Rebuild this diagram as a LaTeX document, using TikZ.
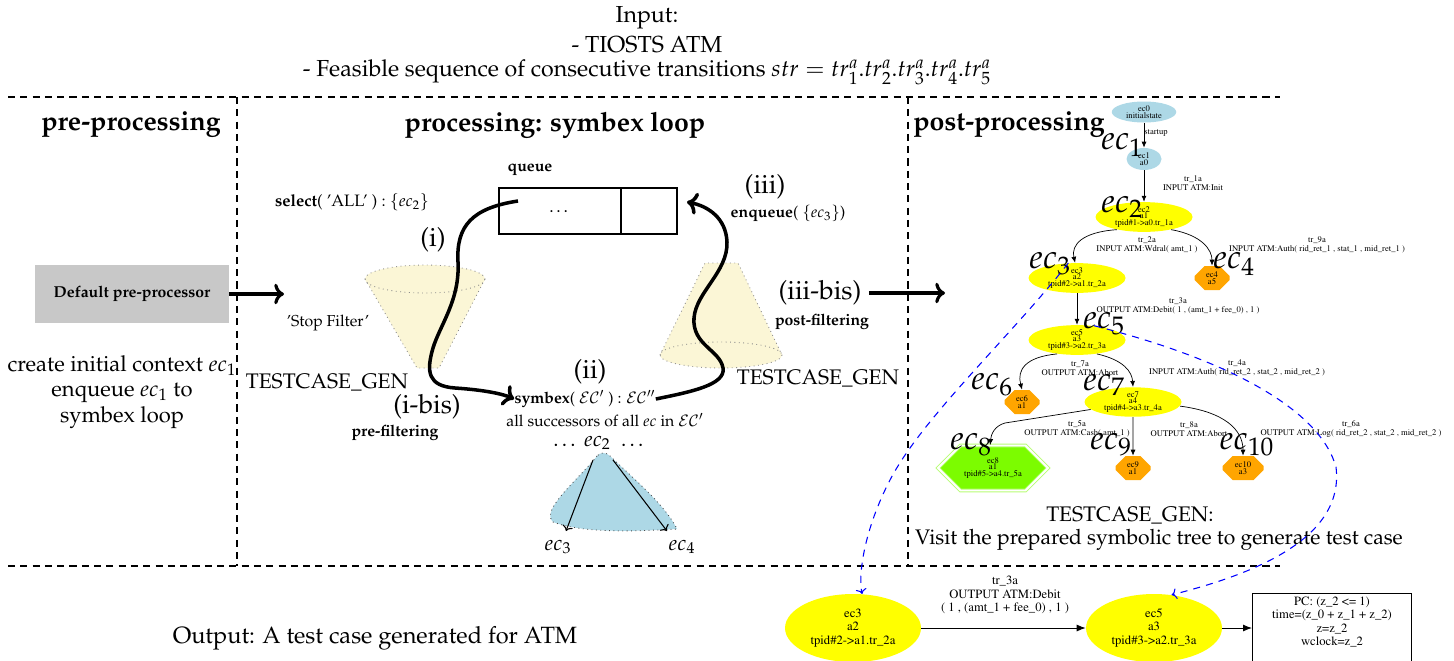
\documentclass[tikz,border=0pt]{standalone}
\usepackage[T1]{fontenc}
\usepackage{mathpazo}
\usetikzlibrary{arrows.meta,shapes.geometric,shapes.misc,positioning}

\definecolor{gvblue}{HTML}{ADD8E6}
\definecolor{gvyellow}{HTML}{FFFF00}
\definecolor{gvorange}{HTML}{FFA500}
\definecolor{gvgreen}{HTML}{7CFC00}
\definecolor{conecol}{HTML}{FBF6D6}
\definecolor{boxgray}{HTML}{C8C8C8}

\newcommand{\gvfont}{\fontfamily{ptm}\selectfont}

\tikzset{
    sep/.style      = {dash pattern=on 4pt off 3pt, line width=0.7pt},
    txt/.style      = {font=\fontsize{12}{14.2}\selectfont, align=center, inner sep=0pt},
    ttl/.style      = {font=\fontsize{13.2}{15}\selectfont, inner sep=0pt},
    head/.style     = {font=\fontsize{15.2}{17}\selectfont\bfseries, inner sep=0pt},
    sml/.style      = {font=\fontsize{9}{11}\selectfont, inner sep=0pt},
    smlb/.style     = {font=\fontsize{9}{11}\selectfont\bfseries, inner sep=0pt},
    stage/.style    = {font=\fontsize{15}{17}\selectfont, inner sep=0pt},
    eclab/.style    = {font=\fontsize{19}{19}\selectfont, inner sep=0pt},
    loopline/.style = {->, line width=2pt},
    bigarrow/.style = {->, line width=1.8pt},
    cone/.style     = {fill=conecol},
    conerim/.style  = {draw=black!45, dotted, line width=0.5pt},
    qcell/.style    = {draw, line width=1.6pt, minimum height=0.92cm, inner sep=0pt, outer sep=0pt},
    gv/.style       = {font=\gvfont\fontsize{4.9}{3.8}\selectfont, align=center, inner sep=0pt},
    gvell/.style    = {gv, ellipse, fill=gvyellow, minimum width=1.94cm, minimum height=0.58cm},
    gvoct/.style    = {gv, chamfered rectangle, chamfered rectangle sep=0.1cm, fill=gvorange,
                       minimum width=0.7cm, minimum height=0.48cm},
    gvedge/.style   = {-{Latex[length=1.2mm,width=1mm]}, line width=0.4pt},
    gvbig/.style    = {font=\gvfont\fontsize{7.2}{7.6}\selectfont, align=center, inner sep=0pt},
    trace/.style    = {->, blue, dash pattern=on 4pt off 3.5pt, line width=0.6pt}
}

\begin{document}
\begin{tikzpicture}[x=0.02cm, y=-0.02cm]
    \useasboundingbox (0,0) rectangle (1454,660);
    \clip (0,0) rectangle (1454,660);

    % ---------- input ----------
    \node[ttl] (InTitle) at (647,18) {Input:};
    \node[ttl] (InAtm)   at (647,45) {- TIOSTS ATM};
    \node[ttl] (InSeq)   at (647,72)
      {- Feasible sequence of consecutive transitions $str = tr^a_1.tr^a_2.tr^a_3.tr^a_4.tr^a_5$};

    % ---------- frame ----------
    \draw[sep] (8,97)  -- (1280,97);
    \draw[sep] (8,566) -- (1280,566);
    \draw[sep] (237,97) -- (237,566);
    \draw[sep] (908,97) -- (908,566);

    \node[head] (PreHead)  at (131,125) {pre-processing};
    \node[head] (ProcHead) at (555,125) {processing: symbex loop};
    \node[head, anchor=west] (PostHead) at (913,125) {post-processing};

    % =================================================
    % 1. pre-processing
    % =================================================
    \node[fill=boxgray, minimum width=3.88cm, minimum height=1.16cm,
          font=\fontsize{9}{11}\selectfont\bfseries] (PrePro) at (132,294) {Default pre-processor};
    \coordinate (ProcIn) at (284,294);
    \draw[bigarrow] (PrePro) -- (ProcIn);

    \node[txt, font=\fontsize{12.5}{14.6}\selectfont] (PreNote) at (122,392)
      {create initial context $ec_1$\\enqueue $ec_1$ to\\symbex loop};

    % =================================================
    % 2. symbex loop
    % =================================================
    % filters (drawn first, the loop passes over them)
    \fill[cone] (365,279) -- (417,368) -- (439,368) -- (485,279) -- cycle;
    \fill[cone] (425,279) ellipse (60 and 14);
    \draw[conerim] (425,279) ellipse (60 and 14);
    \draw[conerim] (365,279) -- (417,368) -- (439,368) -- (485,279);

    \fill[cone] (705,263) -- (738,263) -- (782,355) -- (660,355) -- cycle;
    \fill[cone] (721,355) ellipse (61 and 13);
    \draw[conerim] (721,355) ellipse (61 and 13);
    \draw[conerim] (660,355) -- (705,263) -- (738,263) -- (782,355);

    % queue
    \node[smlb] (QLab) at (530,170) {queue};
    \node[qcell, minimum width=2.44cm] (QHead) at (560,211) {\dots};
    \node[qcell, minimum width=1.12cm, right=0pt of QHead] (QTail) {};
    \node[sml, font=\fontsize{9.4}{11}\selectfont] (Select) at (352,202) {\textbf{select}( 'ALL' ) : $\{ec_2\}$};

    \node[stage] (StepI)   at (433,240) {(i)};
    \node[sml]   (StopF)   at (328,323) {'Stop Filter'};
    \node[font=\fontsize{12}{14}\selectfont, inner sep=0pt] (GenL) at (327,382) {TESTCASE\_GEN};
    \node[stage] (StepIb)  at (427,407) {(i-bis)};
    \node[smlb]  (PreFilt) at (395,433) {pre-filtering};

    \node[stage] (StepII) at (590,372) {(ii)};
    \node[sml] (Symb) at (585,399) {\textbf{symbex}( $\mathcal{EC}'$ ) : $\mathcal{EC}''$};
    \node[sml] (Succ) at (605,420) {all successors of all $ec$ in $\mathcal{EC}'$};
    \node[font=\fontsize{12}{14}\selectfont, inner sep=0pt] (Ec2) at (600,443) {\dots\ $ec_2$ \ \dots};

    \node[stage] (StepIII)  at (765,187) {(iii)};
    \node[sml]   (Enq)      at (788,213) {\textbf{enqueue}( $\{ec_3\}$)};
    \node[stage] (StepIIIb) at (820,293) {(iii-bis)};
    \node[smlb]  (PostFilt) at (822,322) {post-filtering};
    \node[font=\fontsize{12}{14}\selectfont, inner sep=0pt] (GenR) at (818,378) {TESTCASE\_GEN};

    % successors of ec2
    \path[fill=gvblue, draw=black!70, dotted, line width=0.5pt]
      (597,456) .. controls (578,480) and (540,510) .. (553,522)
      .. controls (585,534) and (640,531) .. (677,529)
      .. controls (665,505) and (635,480) .. (610,456)
      .. controls (606,452) and (600,452) .. cycle;
    \node[font=\fontsize{12}{14}\selectfont, inner sep=0pt] (Ec3) at (558,547) {$ec_3$};
    \node[font=\fontsize{12}{14}\selectfont, inner sep=0pt] (Ec4) at (682,547) {$ec_4$};
    \coordinate (SplitL) at (593,460);
    \coordinate (SplitR) at (613,460);
    \coordinate (HitL)   at (566,531);
    \coordinate (HitR)   at (667,531);
    \draw[->, line width=0.6pt] (SplitL) -- (HitL);
    \draw[->, line width=0.6pt] (SplitR) -- (HitR);

    % the loop itself
    \coordinate (QOut) at (518,201);
    \coordinate (QIn)  at (687,202);
    \draw[loopline] (QOut) .. controls (472,208) and (456,226) .. (458,262)
      .. controls (460,300) and (440,325) .. (433,348)
      .. controls (426,372) and (428,386) .. (455,388)
      .. controls (485,390) and (503,394) .. (Symb.west);
    \draw[loopline] (Symb.east) .. controls (690,392) and (726,385) .. (723,368)
      .. controls (720,350) and (692,345) .. (694,318)
      .. controls (696,292) and (728,272) .. (727,242)
      .. controls (726,218) and (708,206) .. (QIn);

    \coordinate (PostIn) at (945,293);
    \draw[bigarrow] ([xshift=4pt]StepIIIb.east) -- (PostIn);

    % =================================================
    % 3. symbolic tree
    % =================================================
    \node[gv, ellipse, fill=gvblue, minimum width=1.29cm, minimum height=0.42cm] (T0) at (1144,112) {ec0\\initialstate};
    \node[gv, ellipse, fill=gvblue, minimum width=0.7cm, minimum height=0.44cm] (T1) at (1144,159) {ec1\\a0};
    \node[gvell] (T2) at (1144,217) {ec2\\a1\\tpid\#1->a0.tr\_1a};
    \node[gvell] (T3) at (1077,278) {ec3\\a2\\tpid\#2->a1.tr\_2a};
    \node[gvoct] (T4) at (1212,278) {ec4\\a5};
    \node[gvell] (T5) at (1077,340) {ec5\\a3\\tpid\#3->a2.tr\_3a};
    \node[gvoct] (T6) at (1022,402) {ec6\\a1};
    \node[gvell] (T7) at (1133,402) {ec7\\a4\\tpid\#4->a3.tr\_4a};
    \node[gv, chamfered rectangle, chamfered rectangle xsep=0.42cm, chamfered rectangle ysep=0.24cm,
          fill=gvgreen, draw=gvgreen!55!white, double=white, double distance=1.1pt, line width=0.5pt,
          minimum width=2.2cm, minimum height=0.7cm] (T8) at (993,468) {ec8\\a1\\tpid\#5->a4.tr\_5a};
    \node[gvoct] (T9)  at (1133,468) {ec9\\a1};
    \node[gvoct, minimum width=0.82cm] (T10) at (1243,468) {ec10\\a3};

    \draw[gvedge] (T0) -- (T1);
    \draw[gvedge] (T1) -- (T2);
    \draw[gvedge] (T2.205) .. controls (1082,232) and (1071,245) .. (T3.97);
    \draw[gvedge] (T2.335) .. controls (1202,235) and (1212,250) .. (T4.north);
    \draw[gvedge] (T3) -- (T5);
    \draw[gvedge] (T5.215) .. controls (1025,357) and (1017,370) .. (T6.north);
    \draw[gvedge] (T5.325) .. controls (1124,360) and (1132,372) .. (T7.north);
    \draw[gvedge] (T7.190) -- (1005,423) .. controls (994,426) and (991,435) .. (T8.97);
    \draw[gvedge] (T7) -- (T9);
    \draw[gvedge] (T7.355) .. controls (1225,412) and (1243,430) .. (T10.north);

    \node[gv] (E01)  at (1156,133) {startup};
    \node[gv] (E12)  at (1193,183) {tr\_1a\\INPUT ATM:Init};
    \node[gv] (E23)  at (1147,245) {tr\_2a\\INPUT ATM:Wdral( amt\_1 )};
    \node[gv] (E24)  at (1317,245) {tr\_9a\\INPUT ATM:Auth( rid\_ret\_1 , stat\_1 , mid\_ret\_1 )};
    \node[gv] (E35)  at (1178,306) {tr\_3a\\OUTPUT ATM:Debit( 1 , (amt\_1 + fee\_0) , 1 )};
    \node[gv] (E56)  at (1080,368) {tr\_7a\\OUTPUT ATM:Abort};
    \node[gv] (E57)  at (1237,368) {tr\_4a\\INPUT ATM:Auth( rid\_ret\_2 , stat\_2 , mid\_ret\_2 )};
    \node[gv] (E78)  at (1077,429) {tr\_5a\\OUTPUT ATM:Cash( amt\_1 )};
    \node[gv] (E79)  at (1189,429) {tr\_8a\\OUTPUT ATM:Abort};
    \node[gv] (E710) at (1351,429) {tr\_6a\\OUTPUT ATM:Log( rid\_ret\_2 , stat\_2 , mid\_ret\_2 )};

    \node[eclab] (L1)  at (1122,145) {$ec_1$};
    \node[eclab] (L2)  at (1122,207) {$ec_2$};
    \node[eclab] (L3)  at (1050,264) {$ec_3$};
    \node[eclab] (L4)  at (1234,264) {$ec_4$};
    \node[eclab] (L5)  at (1104,324) {$ec_5$};
    \node[eclab] (L6)  at (992,385)  {$ec_6$};
    \node[eclab] (L7)  at (1104,385) {$ec_7$};
    \node[eclab] (L8)  at (971,445)  {$ec_8$};
    \node[eclab] (L9)  at (1111,445) {$ec_9$};
    \node[eclab] (L10) at (1247,445) {$ec_{10}$};

    \node[txt] (GenPost)  at (1130,515) {TESTCASE\_GEN:};
    \node[txt] (GenVisit) at (1159,540) {Visit the prepared symbolic tree to generate test case};

    % =================================================
    % 4. output: generated test case
    % =================================================
    \node[txt, font=\fontsize{13.4}{15}\selectfont] (OutTxt) at (375,638) {Output: A test case generated for ATM};

    \node[gvbig, ellipse, fill=gvyellow, minimum width=2.72cm, minimum height=1.36cm] (B3) at (853,628)
      {ec3\\a2\\tpid\#2->a1.tr\_2a};
    \node[gvbig, ellipse, fill=gvyellow, minimum width=2.72cm, minimum height=1.36cm] (B5) at (1154,628)
      {ec5\\a3\\tpid\#3->a2.tr\_3a};
    \node[draw, line width=0.6pt, minimum width=3.18cm, minimum height=2.4cm, inner sep=0pt,
          anchor=north] (PcBox) at (1332,593) {};
    \node[gvbig, anchor=north] (PcTxt) at ([yshift=-2pt]PcBox.north)
      {PC: (z\_2 <= 1)\\time=(z\_0 + z\_1 + z\_2)\\z=z\_2\\wclock=z\_2};

    \draw[-{Latex[length=1.8mm,width=1.4mm]}, line width=0.5pt] (B3) -- (B5);
    \node[gvbig] (BLab) at (1005,595) {tr\_3a\\OUTPUT ATM:Debit\\( 1 , (amt\_1 + fee\_0) , 1 )};
    \draw[-{Latex[length=1.8mm,width=1.4mm]}, line width=0.5pt] (B5) -- (B5 -| PcBox.west);

    % tree nodes traced down to the test case
    \draw[trace] (T3.120) .. controls (1012,335) and (922,418) .. (890,480)
      .. controls (864,530) and (858,575) .. (B3.75);
    \draw[trace] (T5.40) .. controls (1230,360) and (1320,410) .. (1336,467)
      .. controls (1345,540) and (1250,575) .. (B5.62);

\end{tikzpicture}
\end{document}
